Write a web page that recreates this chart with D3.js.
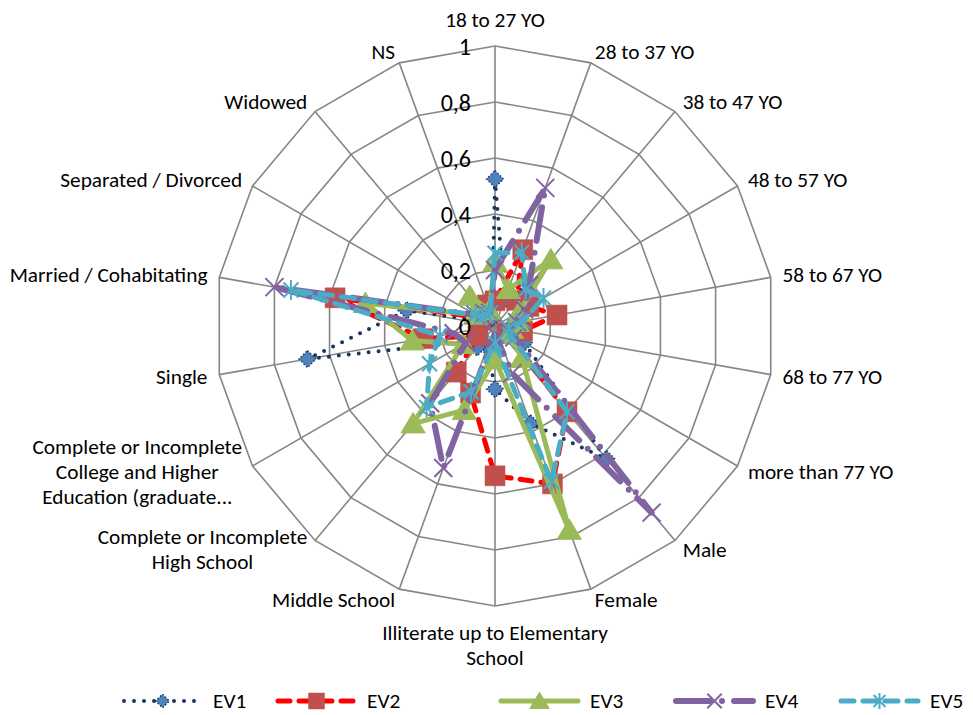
<!DOCTYPE html>
<html>
<head>
<meta charset="utf-8">
<script src="https://cdn.jsdelivr.net/npm/d3@7"></script>
<style>
  body { margin: 0; background: #fff; }
  svg { display: block; }
  text { font-family: Calibri, Carlito, Lato, "Open Sans", sans-serif; fill: #000; }
</style>
</head>
<body>
<svg id="chart" width="973" height="715"></svg>
<script>
// ---- data ----
const categories = [
  "18 to 27 YO", "28 to 37 YO", "38 to 47 YO", "48 to 57 YO", "58 to 67 YO",
  "68 to 77 YO", "more than 77 YO", "Male", "Female",
  "Illiterate up to Elementary\nSchool", "Middle School",
  "Complete or Incomplete\nHigh School",
  "Complete or Incomplete\nCollege and Higher\nEducation (graduate...",
  "Single", "Married / Cohabitating", "Separated / Divorced", "Widowed", "NS"
];
const seriesNames = ["EV1", "EV2", "EV3", "EV4", "EV5"];
const ev1 = [0.525, 0.10, 0.19, 0.12, 0.08, 0.05, 0.12, 0.62, 0.37, 0.225, 0.08, 0.10, 0.11, 0.68, 0.32, 0.03, 0.03, 0.03];
const ev2 = [0.09, 0.29, 0.12, 0.14, 0.225, 0.10, 0.05, 0.40, 0.60, 0.535, 0.255, 0.215, 0.07, 0.26, 0.58, 0.06, 0.06, 0.08];
const ev3 = [0.23, 0.14, 0.31, 0.10, 0.08, 0.06, 0.06, 0.15, 0.775, 0.12, 0.32, 0.455, 0.13, 0.30, 0.47, 0.08, 0.14, 0.06];
const ev4 = [0.20, 0.525, 0.19, 0.12, 0.08, 0.05, 0.08, 0.87, 0.18, 0.03, 0.54, 0.36, 0.12, 0.15, 0.80, 0.08, 0.06, 0.05];
const ev5 = [0.26, 0.28, 0.17, 0.20, 0.10, 0.05, 0.06, 0.40, 0.59, 0.06, 0.25, 0.38, 0.27, 0.20, 0.74, 0.08, 0.05, 0.05];
const tickValues = [0, 0.2, 0.4, 0.6, 0.8, 1];
const tickLabels = ["0", "0,2", "0,4", "0,6", "0,8", "1"];

// ---- layout ----
const cx = 495, cy = 326, R = 280;
const svg = d3.select("#chart");
const r = d3.scaleLinear().domain([0, 1]).range([0, R]);
const angle = d3.scaleLinear().domain([0, categories.length]).range([0, 2 * Math.PI]);
const g = svg.append("g").attr("transform", `translate(${cx},${cy})`);

// ---- grid ----
const ring = v => d3.lineRadial()
  .angle((d, i) => angle(i))
  .radius(r(v))
  .curve(d3.curveLinearClosed)(categories);
const grid = g.append("g").attr("fill", "none").attr("stroke", "#868686").attr("stroke-width", 1.6);
tickValues.filter(v => v > 0).forEach(v => grid.append("path").attr("d", ring(v)));
categories.forEach((c, i) => {
  const a = angle(i);
  grid.append("line").attr("x1", 0).attr("y1", 0)
    .attr("x2", Math.sin(a) * R).attr("y2", -Math.cos(a) * R);
});

// ---- markers ----
const markerPath = {
  diamond: s => `M0,${-s}L${s},0L0,${s}L${-s},0Z`,
  square: s => `M${-s},${-s}H${s}V${s}H${-s}Z`,
  triangle: s => `M0,${-s}L${s * 1.1},${s * 0.85}L${-s * 1.1},${s * 0.85}Z`,
  cross: s => `M${-s},${-s}L${s},${s}M${s},${-s}L${-s},${s}`,
  star: s => `M0,${-s}V${s}M${-s * 0.75},${-s * 0.75}L${s * 0.75},${s * 0.75}M${s * 0.75},${-s * 0.75}L${-s * 0.75},${s * 0.75}`
};

const series = [
  { name: seriesNames[0], values: ev1, color: "#17375E", width: 4, dash: "0 10", cap: "round",
    marker: "diamond", size: 8.5, mFill: "#4F81BD", mStroke: "#17375E", mWidth: 1.5, mDash: "1.5 2" },
  { name: seriesNames[1], values: ev2, color: "#FF0000", width: 5, dash: "12 9", cap: "round",
    marker: "square", size: 10, mFill: "#C0504D", mStroke: "#C0504D", mWidth: 0.5, mDash: null },
  { name: seriesNames[2], values: ev3, color: "#9BBB59", width: 5, dash: null, cap: "round",
    marker: "triangle", size: 11, mFill: "#9BBB59", mStroke: "#9BBB59", mWidth: 1, mDash: null },
  { name: seriesNames[3], values: ev4, color: "#8064A2", width: 6, dash: "34 12 0 12", cap: "round",
    marker: "cross", size: 9, mFill: "none", mStroke: "#8064A2", mWidth: 2, mDash: null },
  { name: seriesNames[4], values: ev5, color: "#4BACC6", width: 5, dash: "13 9", cap: "round",
    marker: "star", size: 10, mFill: "none", mStroke: "#4BACC6", mWidth: 2, mDash: null }
];

const radial = d3.lineRadial()
  .angle((d, i) => angle(i))
  .radius(d => r(d))
  .curve(d3.curveLinearClosed);

series.forEach(s => {
  const sg = g.append("g");
  sg.append("path").attr("d", radial(s.values))
    .attr("fill", "none").attr("stroke", s.color).attr("stroke-width", s.width)
    .attr("stroke-linecap", s.cap).attr("stroke-linejoin", "round")
    .attr("stroke-dasharray", s.dash);
  sg.selectAll("path.m").data(s.values).join("path").attr("class", "m")
    .attr("transform", (d, i) => `translate(${Math.sin(angle(i)) * r(d)},${-Math.cos(angle(i)) * r(d)})`)
    .attr("d", markerPath[s.marker](s.size))
    .attr("fill", s.mFill).attr("stroke", s.mStroke).attr("stroke-width", s.mWidth)
    .attr("stroke-dasharray", s.mDash);
});

// ---- tick labels ----
g.append("g").selectAll("text").data(tickValues).join("text")
  .attr("x", -24).attr("y", d => -r(d))
  .attr("text-anchor", "end").attr("dominant-baseline", "central")
  .style("font-size", "24px")
  .text((d, i) => tickLabels[i]);

// ---- category labels ----
const lineH = 25;
const labels = g.append("g").style("font-size", "21.3px");
categories.forEach((c, i) => {
  const a = angle(i), sn = Math.sin(a), cs = Math.cos(a);
  const ex = sn * R, ey = -cs * R;
  const lines = c.split("\n");
  const t = labels.append("text");
  let yc;
  if (Math.abs(sn) < 0.1) {
    yc = ey - cs * (lines.length * lineH / 2 + 14);
  } else {
    yc = ey - cs * 12;
  }
  const spans = lines.map((ln, k) => t.append("tspan")
    .attr("y", yc + (k - (lines.length - 1) / 2) * lineH)
    .attr("dominant-baseline", "central").text(ln));
  const widths = spans.map(sp => sp.node().getComputedTextLength());
  const maxW = d3.max(widths);
  let center;
  if (Math.abs(sn) < 0.1) center = ex;
  else if (sn > 0) center = ex + 12 * sn + maxW / 2;
  else center = ex + 12 * sn - maxW / 2;
  spans.forEach(sp => sp.attr("x", center).attr("text-anchor", "middle"));
});

// ---- legend ----
const legendX = [124, 278, 501, 676, 841];
const legendY = 701, legendLen = 77;
const lg = svg.append("g");
series.forEach((s, i) => {
  const x0 = legendX[i];
  lg.append("line").attr("x1", x0).attr("x2", x0 + legendLen)
    .attr("y1", legendY).attr("y2", legendY)
    .attr("stroke", s.color).attr("stroke-width", s.width)
    .attr("stroke-linecap", s.cap).attr("stroke-dasharray", s.dash);
  lg.append("path").attr("transform", `translate(${x0 + legendLen / 2},${legendY})`)
    .attr("d", markerPath[s.marker](s.size * 0.8))
    .attr("fill", s.mFill).attr("stroke", s.mStroke).attr("stroke-width", s.mWidth)
    .attr("stroke-dasharray", s.mDash);
  lg.append("text").attr("x", x0 + legendLen + 12).attr("y", legendY)
    .attr("dominant-baseline", "central").style("font-size", "21.3px").text(s.name);
});
</script>
</body>
</html>
